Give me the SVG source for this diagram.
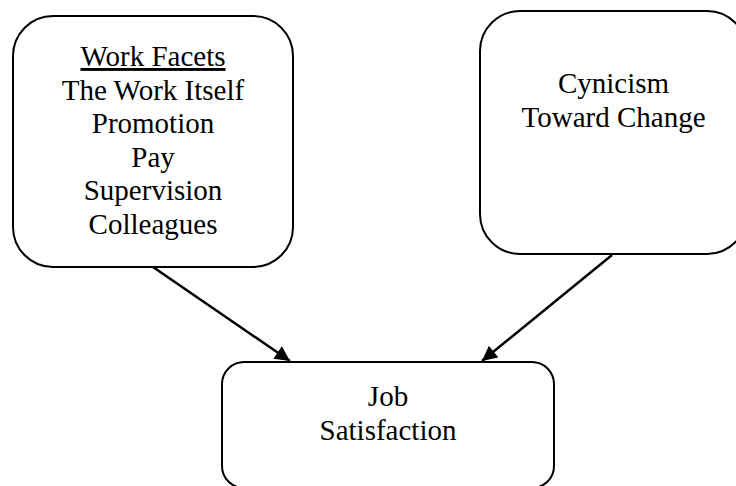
<svg xmlns="http://www.w3.org/2000/svg" width="736" height="486" viewBox="0 0 736 486">
<style>
.box{fill:#fff;stroke:#000;stroke-width:2}
.t{font-family:"Liberation Serif","Times New Roman",serif;font-size:29px;fill:#000;text-anchor:middle}
.c{stroke:#000;stroke-width:2.5;fill:none}
</style>
<defs>
<marker id="ah" viewBox="0 0 10 10" refX="10" refY="5" markerWidth="6.5" markerHeight="6" markerUnits="strokeWidth" orient="auto">
<path d="M0,0 L10,5 L0,10 z" fill="#000"/>
</marker>
</defs>
<rect width="736" height="486" fill="#fff"/>
<g id="facets">
<rect class="box" x="13" y="16" width="280" height="251" rx="40" ry="40"/>
<text class="t" font-family="Liberation Serif, serif" x="153" y="66" text-decoration="underline">Work Facets</text>
<text class="t" font-family="Liberation Serif, serif" x="153" y="99.5">The Work Itself</text>
<text class="t" font-family="Liberation Serif, serif" x="153" y="133">Promotion</text>
<text class="t" font-family="Liberation Serif, serif" x="153" y="166.5">Pay</text>
<text class="t" font-family="Liberation Serif, serif" x="153" y="200">Supervision</text>
<text class="t" font-family="Liberation Serif, serif" x="153" y="233.5">Colleagues</text>
</g>
<g id="cynicism">
<rect class="box" x="480" y="11" width="267" height="243" rx="40" ry="40"/>
<text class="t" font-family="Liberation Serif, serif" x="613.5" y="93">Cynicism</text>
<text class="t" font-family="Liberation Serif, serif" x="613.5" y="127">Toward Change</text>
</g>
<g id="satisfaction">
<rect class="box" x="222" y="362" width="332" height="126" rx="22" ry="22"/>
<text class="t" font-family="Liberation Serif, serif" x="388" y="406">Job</text>
<text class="t" font-family="Liberation Serif, serif" x="388" y="440">Satisfaction</text>
</g>
<g id="connectors">
<line class="c" x1="153" y1="267" x2="290" y2="361" marker-end="url(#ah)"/>
<line class="c" x1="612" y1="255" x2="482" y2="361" marker-end="url(#ah)"/>
</g>
</svg>
